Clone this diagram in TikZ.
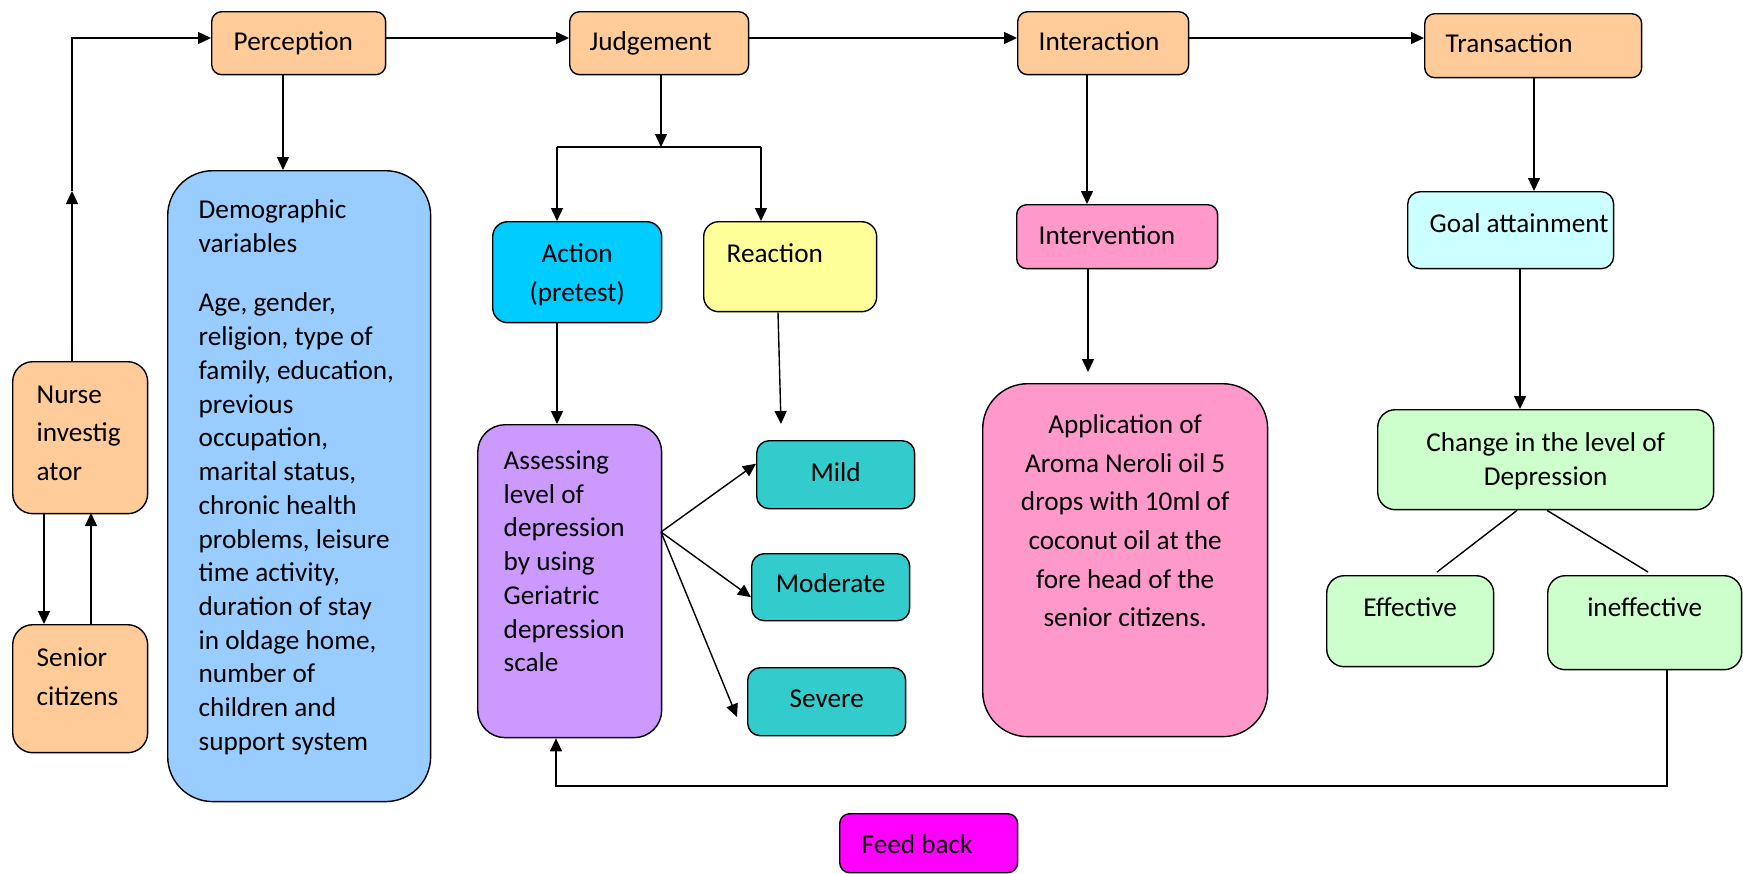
\documentclass[tikz,border=0pt]{standalone}
\usepackage{fontspec}
\setmainfont{Carlito}
\usetikzlibrary{arrows.meta}

\definecolor{orng}{HTML}{FFCC99}
\definecolor{demo}{HTML}{99CCFF}
\definecolor{actn}{HTML}{00CCFF}
\definecolor{reac}{HTML}{FFFF99}
\definecolor{lila}{HTML}{CC99FF}
\definecolor{teal}{HTML}{33CCCC}
\definecolor{pink}{HTML}{FF99CC}
\definecolor{goal}{HTML}{CCFFFF}
\definecolor{grn}{HTML}{CCFFCC}
\definecolor{mgnt}{HTML}{FF00FF}

% text inside a box: width, height, top pad, (left pad), text
\newcommand{\lbox}[5]{\parbox[t][#2][t]{#1}{\vspace*{#3}\raggedright\leftskip=#4\relax #5}}
\newcommand{\cbox}[4]{\parbox[t][#2][t]{#1}{\vspace*{#3}\centering #4}}

\tikzset{
  box/.style={draw, line width=0.8pt, inner sep=0pt, anchor=north west, rounded corners=#1},
  box/.default=0.2cm,
  loose/.style={font=\fontsize{15.5}{22}\selectfont},
  arr/.style={line width=0.8pt, -{Triangle[length=0.26cm,width=0.24cm]}},
  ln/.style={line width=0.8pt}
}

\begin{document}
\begin{tikzpicture}[x=0.02cm,y=-0.02cm,font=\fontsize{15.5}{19.2}\selectfont]
\useasboundingbox (0,0) rectangle (1743,873);

% top row
\node[box, fill=orng] (perc) at (211,11) {\lbox{3.48cm}{1.26cm}{0.40cm}{0.44cm}{Perception}};
\node[box, fill=orng] (judg) at (569,11) {\lbox{3.58cm}{1.26cm}{0.40cm}{0.40cm}{Judgement}};
\node[box, fill=orng] (inter) at (1017,11) {\lbox{3.42cm}{1.26cm}{0.40cm}{0.42cm}{Interaction}};
\node[box, fill=orng] (trans) at (1424,13) {\lbox{4.34cm}{1.28cm}{0.40cm}{0.42cm}{Transaction}};

% left side
\node[box=0.4cm, fill=orng, loose] (nurse) at (12,361) {\lbox{2.70cm}{3.04cm}{0.48cm}{0.48cm}{Nurse\\investig\\ator}};
\node[box=0.4cm, fill=orng, loose] (senior) at (12,624) {\lbox{2.70cm}{2.56cm}{0.46cm}{0.48cm}{Senior\\citizens}};
\node[box=0.9cm, fill=demo] (demo) at (167,170) {\lbox{5.26cm}{12.62cm}{0.58cm}{0.62cm}{Demographic\\variables\\[14.7pt]Age, gender,\\religion, type of\\family, education,\\previous\\occupation,\\marital status,\\chronic health\\problems, leisure\\time activity,\\duration of stay\\in oldage home,\\number of\\children and\\support system}};

% judgement part
\node[box=0.3cm, fill=actn, loose] (action) at (492,221) {\cbox{3.38cm}{2.02cm}{0.44cm}{Action\\(pretest)}};
\node[box=0.3cm, fill=reac] (react) at (703,221) {\lbox{3.46cm}{1.80cm}{0.44cm}{0.46cm}{Reaction}};
\node[box=0.55cm, fill=lila] (assess) at (477,424) {\lbox{3.68cm}{6.26cm}{0.52cm}{0.52cm}{Assessing\\level of\\depression\\by using\\Geriatric\\depression\\scale}};
\node[box=0.25cm, fill=teal] (mild) at (756,440) {\cbox{3.16cm}{1.36cm}{0.44cm}{Mild}};
\node[box=0.25cm, fill=teal] (moderate) at (751,553) {\cbox{3.16cm}{1.34cm}{0.40cm}{Moderate}};
\node[box=0.25cm, fill=teal] (severe) at (747,667) {\cbox{3.16cm}{1.36cm}{0.44cm}{Severe}};

% interaction part
\node[box, fill=pink] (interv) at (1016,204) {\lbox{4.02cm}{1.28cm}{0.42cm}{0.44cm}{Intervention}};
\node[box=0.9cm, fill=pink, loose] (appl) at (982,383) {\cbox{5.70cm}{7.06cm}{0.62cm}{Application of\\Aroma Neroli oil 5\\drops with 10ml of\\coconut oil at the\\fore head of the\\senior citizens.}};

% transaction part
\node[box=0.25cm, fill=goal] (goal) at (1407,191) {\lbox{4.12cm}{1.54cm}{0.44cm}{0.44cm}{Goal attainment}};
\node[box=0.35cm, fill=grn] (change) at (1377,409) {\cbox{6.72cm}{2.00cm}{0.46cm}{Change in the level of\\Depression}};
\node[box=0.35cm, fill=grn] (effect) at (1326,575) {\cbox{3.34cm}{1.82cm}{0.44cm}{Effective}};
\node[box=0.35cm, fill=grn] (ineff) at (1547,575) {\cbox{3.88cm}{1.88cm}{0.44cm}{ineffective}};

\node[box, fill=mgnt] (feed) at (839,813) {\lbox{3.56cm}{1.18cm}{0.42cm}{0.44cm}{Feed back}};

% connectors
\coordinate (nb) at (72,38);
\draw[arr] (nurse.north -| nb) -- (72,191);
\draw[arr] (72,191) -- (nb) -- (nb -| perc.west);
\draw[arr] (44,513) -- (44,624);
\draw[arr] (91,624) -- (91,513);
\draw[arr] (perc.south -| 283,0) -- (demo.north -| 283,0);
\draw[arr] (perc.east |- nb) -- (judg.west |- nb);
\draw[arr] (judg.east |- nb) -- (inter.west |- nb);
\draw[arr] (inter.east |- nb) -- (trans.west |- nb);

\coordinate (jb) at (661,147);
\coordinate (jl) at (557,147);
\coordinate (jr) at (761,147);
\draw[arr] (judg.south -| jb) -- (jb);
\draw[ln] (jl) -- (jr);
\draw[arr] (jl) -- (jl |- action.north);
\draw[arr] (jr) -- (jr |- react.north);
\draw[arr] (action.south -| jl) -- (assess.north -| jl);
\coordinate (rm) at (781,424);
\draw[arr] (react.south -| 778,0) -- (rm);

\coordinate (ao) at (661,532);
\coordinate (sv) at (737,717);
\draw[arr] (ao) -- ([yshift=0.22cm]mild.west);
\draw[arr] (ao) -- ([yshift=-0.2cm]moderate.west);
\draw[arr] (ao) -- (sv);

\draw[arr] (inter.south -| 1087,0) -- (interv.north -| 1087,0);
\coordinate (ia) at (1088,372);
\draw[arr] (interv.south -| ia) -- (ia);

\draw[arr] (trans.south -| 1534,0) -- (goal.north -| 1534,0);
\draw[arr] (goal.south -| 1520,0) -- (change.north -| 1520,0);
\draw[ln] (change.south -| 1517,0) -- (1437,572);
\draw[ln] (change.south -| 1547,0) -- (1648,572);

\coordinate (fb) at (1667,786);
\draw[arr] (ineff.south -| fb) -- (fb) -- (556,786) -- (assess.south -| 556,0);
\end{tikzpicture}
\end{document}
